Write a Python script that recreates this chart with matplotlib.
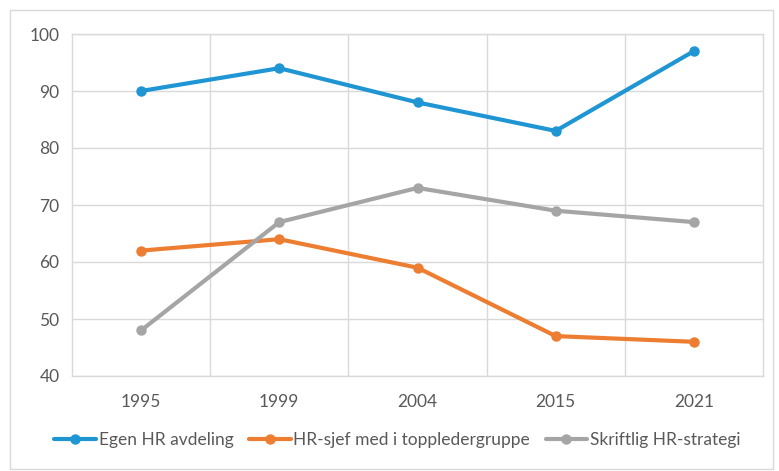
import matplotlib.pyplot as plt
from matplotlib.patches import Rectangle

years = ["1995", "1999", "2004", "2015", "2021"]
egen_hr = [90, 94, 88, 83, 97]
hr_sjef = [62, 64, 59, 47, 46]
skriftlig = [48, 67, 73, 69, 67]
series_labels = ["Egen HR avdeling", "HR-sjef med i toppledergruppe", "Skriftlig HR-strategi"]
colors = ["#1f96d3", "#ed7d31", "#a5a5a5"]

plt.rcParams['font.family'] = ['Lato', 'DejaVu Sans']

fig = plt.figure(figsize=(7.79, 4.71), dpi=100)
W, H = 779, 471
ax = fig.add_axes([72 / W, 1 - 376 / H, (763 - 72) / W, (376 - 34) / H])

x = list(range(len(years)))
for vals, lab, c in zip([egen_hr, hr_sjef, skriftlig], series_labels, colors):
    ax.plot(x, vals, color=c, lw=3, marker='o', ms=6.5, label=lab,
            solid_capstyle='round', zorder=3)

ax.set_xlim(-0.5, len(years) - 0.5)
ax.set_ylim(40, 100)
ax.set_yticks(range(40, 101, 10))
ax.set_xticks(x)
ax.set_xticklabels(years)

# vertical gridlines between categories
for b in [i + 0.5 for i in range(len(years) - 1)]:
    ax.axvline(b, color='#d9d9d9', lw=1, zorder=1)
ax.yaxis.grid(True, color='#d9d9d9', lw=1, zorder=1)
ax.set_axisbelow(True)

for s in ax.spines.values():
    s.set_color('#d9d9d9')
    s.set_linewidth(1)
ax.tick_params(length=0, colors='#595959', labelsize=12.5)
ax.tick_params(axis='x', pad=13)
ax.tick_params(axis='y', pad=9)

fig.legend(loc='center', bbox_to_anchor=(0.51, 1 - 440 / H), ncol=3, frameon=False,
           fontsize=12.5, handlelength=2.4, handletextpad=0.15, columnspacing=0.9,
           labelcolor='#595959')

fig.patches.append(Rectangle((10 / W, 1 - 469 / H), (773 - 10) / W, (469 - 10) / H,
                             transform=fig.transFigure, fill=False,
                             edgecolor='#d9d9d9', lw=1))

fig.savefig('out.png', dpi=100, facecolor='white')
